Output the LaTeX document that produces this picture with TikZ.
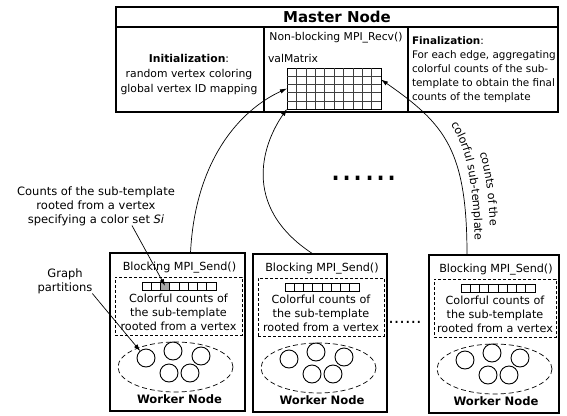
\documentclass[tikz,border=0pt]{standalone}
\usepackage{fontspec}
\setmainfont{DejaVu Sans}
\usetikzlibrary{arrows.meta,shapes.geometric,decorations.text}
\tikzset{
  every node/.style={inner sep=0pt, outer sep=0pt},
  mtext/.style={font=\fontsize{10.8}{15}\selectfont},
  ftext/.style={font=\fontsize{10.4}{14}\selectfont},
  wtext/.style={font=\fontsize{11.2}{14}\selectfont},
  annot/.style={font=\fontsize{11.5}{14}\selectfont},
  wbox/.style={draw, line width=1.4pt},
  secbox/.style={draw, line width=1.3pt},
  dbox/.style={draw, line width=0.7pt, dash pattern=on 3pt off 2pt},
  partell/.style={ellipse, draw, line width=0.7pt, dash pattern=on 5pt off 3pt},
  part/.style={circle, draw, line width=0.9pt, minimum size=18pt},
  cellline/.style={line width=0.6pt},
  gridline/.style={line width=0.6pt, draw=black!75},
  conn/.style={line width=0.7pt, -{Latex[length=7pt,width=4.5pt]}},
  curvetext/.style={decorate, decoration={text along path, text align=center, text={#1}}},
}
\newcommand\workerunit[5]{%
  \node[wbox, minimum width={#4*1pt}, minimum height=158pt, anchor=north west] (#1box) at (#2,#3) {};
  \begin{scope}[shift={(#2,#3)}]
    \node[wtext] (#1send) at ({#4/2+2},15) {Blocking MPI\_Send()};
    \node[dbox, minimum width={(#4-8)*1pt}, minimum height=58pt, anchor=north west] (#1dash) at (5,24) {};
    \node[fill=#5, minimum width=9.25pt, minimum height=8pt, anchor=north west] (#1sel) at (50.5,29) {};
    \node[draw, cellline, minimum width=74pt, minimum height=8pt, anchor=north west] (#1arr) at (32,29) {};
    \foreach \k in {1,...,7} \draw[cellline] (32+\k*9.25,29) -- ++(0,8);
    \node[wtext, align=center] (#1cnt) at ({#4/2+1},59) {Colorful counts of\\the sub-template\\rooted from a vertex};
    \node[partell, minimum width=115pt, minimum height=50pt] (#1part) at (65.5,114) {};
    \node[part] (#1c1) at (36,105) {};
    \node[part] (#1c2) at (63,98) {};
    \node[part] (#1c3) at (91,103) {};
    \node[part] (#1c4) at (59,120) {};
    \node[part] (#1c5) at (80,120) {};
    \node[font=\fontsize{11.6}{14}\selectfont\bfseries] (#1name) at ({#4/2+2},146) {Worker Node};
  \end{scope}}
\begin{document}
\begin{tikzpicture}[x=1pt,y=-1pt]
\useasboundingbox (0,0) rectangle (567,415);
% master node
\node[draw, line width=1.8pt, minimum width=442pt, minimum height=105pt, anchor=north west] (master) at (116,7) {};
\node[secbox, minimum width=148pt, minimum height=85pt, anchor=north west] (initbox) at (116,27) {};
\node[secbox, minimum width=144pt, minimum height=85pt, anchor=north west] (recvbox) at (264,27) {};
\node[secbox, minimum width=150pt, minimum height=85pt, anchor=north west] (finbox) at (408,27) {};
\node[font=\fontsize{15}{18}\selectfont\bfseries] (mtitle) at (337,17) {Master Node};
\node[mtext, align=center] (init) at (189,75) {\textbf{Initialization}:\\random vertex coloring\\global vertex ID mapping};
\node[mtext] (recv) at (336,38) {Non-blocking MPI\_Recv()};
\node[mtext, anchor=west] (valm) at (268,58) {valMatrix};
\node[draw, line width=0.7pt, minimum width=94pt, minimum height=41pt, anchor=north west] (grid) at (287,68) {};
\foreach \i in {1,...,9} \draw[gridline] (287+\i*9.4,68) -- ++(0,41);
\foreach \j in {1,...,4} \draw[gridline] (287,68+\j*8.2) -- ++(94,0);
\node[ftext, align=left, anchor=north west] (final) at (412,37) {\textbf{Finalization}:\\For each edge, aggregating\\colorful counts of the sub-\\template to obtain the final\\counts of the template};
% workers
\workerunit{wa}{110}{253}{135}{black!35}
\workerunit{wb}{253}{254}{134}{white}
\workerunit{wc}{429}{255}{130}{white}
% dots
\node[font=\fontsize{35}{35}\selectfont, anchor=base] (dotsbig) at (364,180) {......};
\node[font=\fontsize{17.5}{18}\selectfont, anchor=base] (dotssmall) at (405,323) {......};
% connectors
\draw[conn] ([xshift=13pt]wabox.north) .. controls (195,160) and (240,110) .. (grid.west);
\draw[conn] ([xshift=-7pt]wbbox.north) .. controls (238,205) and (265,140) .. (grid.south west);
\draw[conn] ([xshift=-27pt]wcbox.north) .. controls (467,150) and (445,124) .. ([yshift=9pt]grid.east);
% curved label along the right connector
\coordinate (lbA) at (445,116);
\coordinate (lbB) at (475,250);
\coordinate (lcA) at (466,124);
\coordinate (lcB) at (491,258);
\path[curvetext={|\fontsize{11.2}{14}\selectfont|colorful sub-template}] (lbA) .. controls (464,140) and (474,175) .. (lbB);
\path[curvetext={|\fontsize{11.2}{14}\selectfont|counts of the}] (lcA) .. controls (483,150) and (490,185) .. (lcB);
% annotations
\node[annot, align=center] (ann1) at (96,206) {Counts of the sub-template\\rooted from a vertex\\specifying a color set \textit{Si}};
\draw[conn] ([xshift=36pt]ann1.south) -- (wasel.center);
\node[annot, align=center] (ann2) at (65,281) {Graph\\partitions};
\draw[conn] (ann2.south east) -- (wac1);
\end{tikzpicture}
\end{document}
